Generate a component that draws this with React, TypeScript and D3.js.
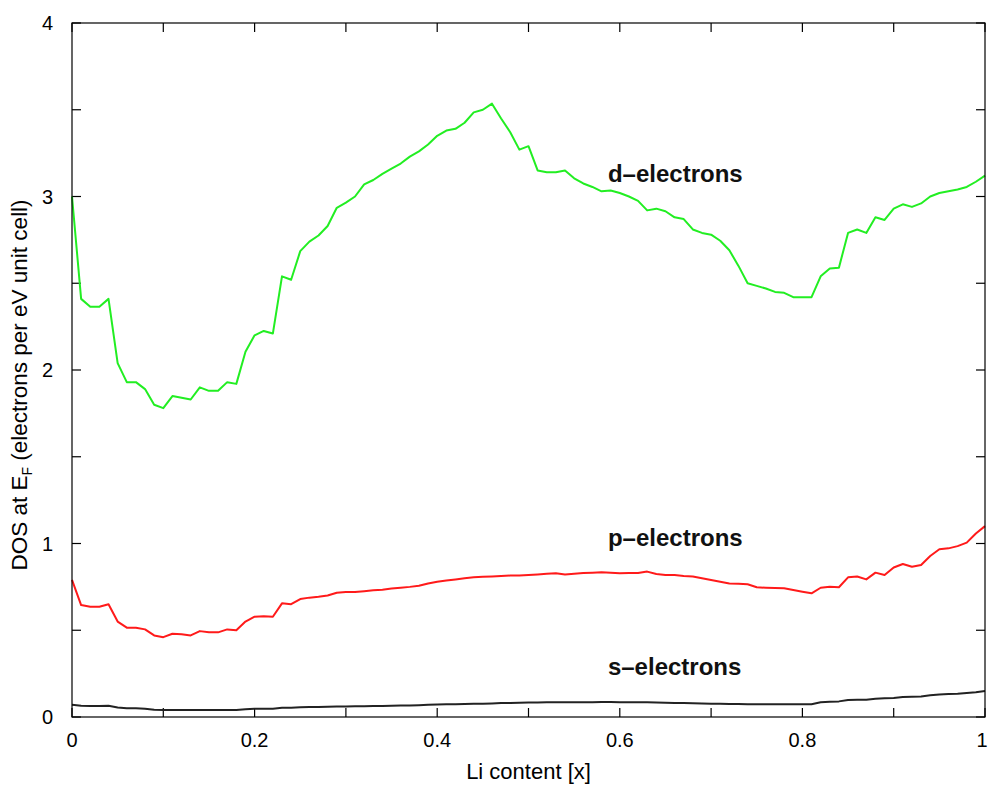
import * as d3 from 'd3'

// Li content grid (0 .. 1 in steps of 0.01)
const liContent = d3.range(101).map((i) => i / 100)

const dElectrons = [
  3.0, 2.41, 2.365, 2.365, 2.41, 2.04, 1.93, 1.93, 1.89, 1.8,
  1.78, 1.85, 1.84, 1.83, 1.9, 1.88, 1.88, 1.93, 1.92, 2.105,
  2.2, 2.225, 2.21, 2.54, 2.52, 2.685, 2.74, 2.775, 2.83, 2.935,
  2.965, 3.0, 3.07, 3.095, 3.13, 3.16, 3.19, 3.23, 3.26, 3.3,
  3.35, 3.38, 3.39, 3.425, 3.485, 3.5, 3.535, 3.45, 3.37, 3.27,
  3.29, 3.15, 3.14, 3.14, 3.15, 3.105, 3.075, 3.055, 3.03, 3.035,
  3.02, 3.0, 2.975, 2.92, 2.93, 2.915, 2.88, 2.87, 2.81, 2.79,
  2.78, 2.745, 2.69, 2.6, 2.5, 2.485, 2.47, 2.45, 2.445, 2.42,
  2.42, 2.42, 2.54, 2.585, 2.59, 2.79, 2.81, 2.79, 2.88, 2.865,
  2.93, 2.955, 2.94, 2.96, 3.0, 3.02, 3.03, 3.04, 3.055, 3.085,
  3.12,
]

const pElectrons = [
  0.79, 0.645, 0.635, 0.635, 0.65, 0.55, 0.515, 0.515, 0.505, 0.47,
  0.46, 0.48, 0.477, 0.47, 0.495, 0.488, 0.488, 0.505, 0.5, 0.55,
  0.578, 0.58, 0.578, 0.655, 0.65, 0.68, 0.688, 0.693, 0.7, 0.716,
  0.72, 0.72, 0.725, 0.73, 0.734, 0.74, 0.745, 0.75, 0.757, 0.77,
  0.78, 0.787, 0.793, 0.8, 0.805, 0.808, 0.81, 0.813, 0.815, 0.815,
  0.818, 0.822, 0.825, 0.828, 0.822, 0.826, 0.83, 0.832, 0.835, 0.832,
  0.828, 0.83, 0.83, 0.838, 0.824, 0.818, 0.818, 0.813, 0.81, 0.8,
  0.79, 0.78, 0.77, 0.768, 0.765, 0.748, 0.745, 0.743, 0.742, 0.732,
  0.722, 0.713, 0.745, 0.751, 0.748, 0.805, 0.81, 0.793, 0.832, 0.818,
  0.862, 0.882, 0.866, 0.876, 0.928, 0.967, 0.972, 0.985, 1.005, 1.058,
  1.1,
]

const sElectrons = [
  0.07, 0.065, 0.063, 0.063, 0.065, 0.055, 0.05, 0.05, 0.048, 0.042,
  0.04, 0.04, 0.04, 0.04, 0.04, 0.04, 0.04, 0.04, 0.04, 0.045,
  0.048, 0.048, 0.048, 0.053, 0.053, 0.056, 0.057, 0.058, 0.059, 0.06,
  0.061, 0.062, 0.062, 0.063, 0.064, 0.065, 0.066, 0.067, 0.068, 0.07,
  0.072, 0.073, 0.074, 0.075, 0.076, 0.077, 0.078, 0.08, 0.081, 0.082,
  0.083, 0.084, 0.085, 0.085, 0.085, 0.085, 0.085, 0.085, 0.086, 0.086,
  0.085, 0.085, 0.085, 0.085, 0.084, 0.082, 0.081, 0.08, 0.079, 0.078,
  0.077, 0.076, 0.075, 0.075, 0.074, 0.074, 0.074, 0.074, 0.074, 0.074,
  0.074, 0.074, 0.085, 0.088, 0.09, 0.098, 0.1, 0.1, 0.105, 0.108,
  0.11, 0.115, 0.116, 0.118, 0.125, 0.13, 0.132, 0.134, 0.138, 0.143,
  0.15,
]

const xTicks = d3.range(11).map((i) => i / 10)
const xTickLabels = ['0', '0.2', '0.4', '0.6', '0.8', '1']
const yTicks = d3.range(9).map((i) => i / 2)
const yTickLabels = ['0', '1', '2', '3', '4']

const series = [
  { name: 'd-electrons', values: dElectrons, color: '#22ee22', label: 'd\u2013electrons', labelAt: [0.587, 3.13] },
  { name: 'p-electrons', values: pElectrons, color: '#ff1a1a', label: 'p\u2013electrons', labelAt: [0.587, 1.03] },
  { name: 's-electrons', values: sElectrons, color: '#222222', label: 's\u2013electrons', labelAt: [0.587, 0.29] },
]

const W = 989
const H = 787
const margin = { top: 23, right: 4, bottom: 70, left: 72 }
const FONT = "'Liberation Sans', Arial, Helvetica, sans-serif"

export default function App() {
  const x = d3.scaleLinear().domain([0, 1]).range([margin.left, W - margin.right])
  const y = d3.scaleLinear().domain([0, 4]).range([H - margin.bottom, margin.top])
  const tick = 9

  const line = (vals: number[]) =>
    d3.line<number>()
      .x((_, i) => x(liContent[i]))
      .y((d) => y(d))(vals) || ''

  const x0 = x(0), x1 = x(1), y0 = y(0), y1 = y(4)

  return (
    <svg
      width={W}
      height={H}
      style={{ position: 'absolute', left: 0, top: 0, background: '#fff' }}
      fontFamily={FONT}
    >
      <rect x={0} y={0} width={W} height={H} fill="#fff" />

      {/* ticks, mirrored on all four sides */}
      {xTicks.map((t) => (
        <g key={'xt' + t} stroke="#000" strokeWidth={1.2}>
          <line x1={x(t)} x2={x(t)} y1={y0} y2={y0 - tick} />
          <line x1={x(t)} x2={x(t)} y1={y1} y2={y1 + tick} />
        </g>
      ))}
      {yTicks.map((t) => (
        <g key={'yt' + t} stroke="#000" strokeWidth={1.2}>
          <line x1={x0} x2={x0 + tick} y1={y(t)} y2={y(t)} />
          <line x1={x1} x2={x1 - tick} y1={y(t)} y2={y(t)} />
        </g>
      ))}

      {/* tick labels */}
      {xTickLabels.map((s) => (
        <text
          key={'xl' + s}
          x={Math.min(x(+s), W - 7)}
          y={y0 + 30}
          textAnchor="middle"
          fontSize={20}
          fill="#000"
        >
          {s}
        </text>
      ))}
      {yTickLabels.map((s) => (
        <text key={'yl' + s} x={x0 - 19} y={y(+s) + 7} textAnchor="end" fontSize={20} fill="#000">
          {s}
        </text>
      ))}

      {/* curves */}
      {series.map((s) => (
        <path key={s.name} d={line(s.values)} fill="none" stroke={s.color} strokeWidth={2} strokeLinejoin="round" />
      ))}

      {/* curve labels */}
      {series.map((s) => (
        <text
          key={s.name + '-lab'}
          x={x(s.labelAt[0])}
          y={y(s.labelAt[1]) + 8}
          fontSize={24}
          fontWeight="bold"
          fill="#111"
        >
          {s.label}
        </text>
      ))}

      {/* frame */}
      <rect x={x0} y={y1} width={x1 - x0} height={y0 - y1} fill="none" stroke="#000" strokeWidth={1.2} />

      {/* axis titles */}
      <text x={(x0 + x1) / 2} y={y0 + 62} textAnchor="middle" fontSize={22} fill="#000">
        Li content [x]
      </text>
      <text
        transform={`translate(27,385) rotate(-90)`}
        textAnchor="middle"
        fontSize={22.5}
        fill="#000"
      >
        DOS at E<tspan fontSize={14} dy={5}>F</tspan>
        <tspan dy={-5}> (electrons per eV unit cell)</tspan>
      </text>
    </svg>
  )
}
